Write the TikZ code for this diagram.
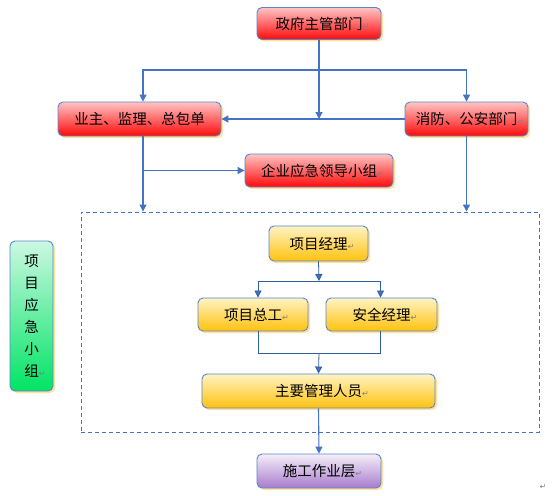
\documentclass[tikz,border=0pt]{standalone}
\usepackage{fontspec}
\setmainfont{Noto Sans CJK SC}
\newfontfamily\symf{DejaVu Sans}
\usetikzlibrary{arrows.meta,shadows}
\definecolor{ln}{HTML}{4472C4}
\definecolor{lnd}{HTML}{2F5D9E}
\definecolor{bd}{HTML}{5B86CC}
\definecolor{shc}{HTML}{FFE2A0}
\definecolor{redT}{HTML}{FFC4C4}
\definecolor{redB}{HTML}{FF0A0A}
\definecolor{yelT}{HTML}{FFF3C4}
\definecolor{yelB}{HTML}{FFC20E}
\definecolor{grnT}{HTML}{CCF8E2}
\definecolor{grnB}{HTML}{00E464}
\definecolor{purT}{HTML}{F5EEF9}
\definecolor{purB}{HTML}{A77CCC}
\newcommand\retmark{\rlap{\symf\color{gray}\fontsize{8}{8}\selectfont ↵}}
\begin{document}
\begin{tikzpicture}[x=1pt,y=-1pt,
  box/.style={draw=bd, line width=0.9pt, rounded corners=5pt,
    drop shadow={shadow xshift=2pt, shadow yshift=-2pt, fill=shc, opacity=1},
    font=\fontsize{14.5}{14.5}\selectfont, inner sep=0pt, text=black},
  redbox/.style={box, top color=redT, bottom color=redB},
  yelbox/.style={box, top color=yelT, bottom color=yelB},
  grnbox/.style={box, top color=grnT, bottom color=grnB},
  purbox/.style={box, top color=purT, bottom color=purB},
  arr/.style={draw=ln, line width=1.1pt, -{Triangle[length=7pt,width=7pt]}},
  lin/.style={draw=ln, line width=1.1pt},
  iarr/.style={draw=lnd, line width=0.8pt, -{Triangle[length=7pt,width=7pt,fill=ln]}},
  ilin/.style={draw=lnd, line width=0.8pt},
  grpbox/.style={draw=ln, line width=0.9pt, dash pattern=on 4pt off 3pt, inner sep=0pt}
]
\useasboundingbox (0,0) rectangle (553,495);

% dashed group
\node[grpbox, minimum width=458pt, minimum height=220pt] (grp) at (310,322) {};

% nodes
\node[redbox, minimum width=124pt, minimum height=32pt] (gov) at (319,23.5) {政府主管部门\retmark};
\node[redbox, minimum width=163pt, minimum height=34pt] (owner) at (139.5,119) {业主、监理、总包单};
\node[redbox, minimum width=123pt, minimum height=34pt] (fire) at (466.5,119) {消防、公安部门\retmark};
\node[redbox, minimum width=148pt, minimum height=33pt] (lead) at (319,170.5) {企业应急领导小组\retmark};
\node[grnbox, minimum width=43pt, minimum height=150pt, align=center,
      font=\fontsize{14.5}{22}\selectfont] (grn) at (31.5,316) {项\\目\\应\\急\\小\\组\retmark};
\node[yelbox, minimum width=99pt, minimum height=35pt] (pmgr) at (318.5,243.5) {项目经理\retmark};
\node[yelbox, minimum width=110pt, minimum height=33pt] (chief) at (253,314.5) {项目总工\retmark};
\node[yelbox, minimum width=111pt, minimum height=33pt] (safe) at (381.5,314.5) {安全经理\retmark};
\node[yelbox, minimum width=233pt, minimum height=34pt] (mainp) at (318.5,391) {主要管理人员\retmark};
\node[purbox, minimum width=124pt, minimum height=34pt] (work) at (319,471) {施工作业层\retmark};
\node[inner sep=0pt, font=\symf\fontsize{8}{8}\selectfont, text=gray] (endmark) at (543,487) {↵};

% top connectors
\coordinate (j1) at (319,70);
\coordinate (oN) at ([xshift=3.5pt]owner.north);
\coordinate (oS) at ([xshift=3.5pt]owner.south);
\draw[lin] (gov.south) -- (j1);
\draw[arr] (j1) -| (oN);
\draw[arr] (j1) -| (fire.north);
\draw[arr] (j1) -- (j1 |- fire.west);
\draw[arr] (fire.west) -- (owner.east);
\draw[arr] (oS) -- (oS |- grp.north);
\draw[arr] (oS |- lead.west) -- (lead.west);
\draw[arr] (fire.south) -- (fire.south |- grp.north);

% inner connectors
\coordinate (j2) at (319,281);
\coordinate (cA) at ([xshift=5pt]chief.north);
\coordinate (cB) at ([xshift=5pt]chief.south);
\coordinate (sA) at ([xshift=-1pt]safe.north);
\coordinate (sB) at ([xshift=-1pt]safe.south);
\coordinate (j3) at (319,353);
\draw[iarr] (pmgr.south) -- (j2);
\draw[iarr] (j2) -| (cA);
\draw[iarr] (j2) -| (sA);
\draw[ilin] (cB) |- (j3);
\draw[ilin] (sB) |- (j3);
\draw[iarr] (j3) -- (mainp.north);
\draw[arr] (mainp.south) -- (work.north);
\end{tikzpicture}
\end{document}
